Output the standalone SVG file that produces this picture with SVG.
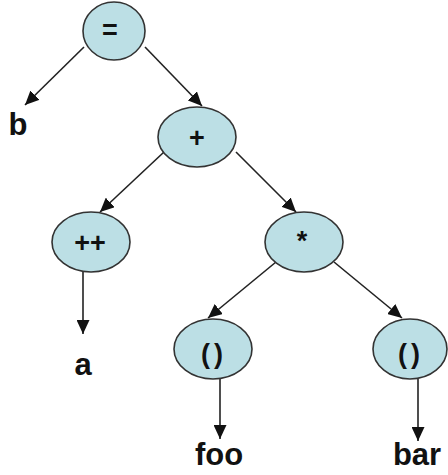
<svg xmlns="http://www.w3.org/2000/svg" width="448" height="475" viewBox="0 0 448 475">
<style>
.node ellipse{fill:#bcdfe5;stroke:#333;stroke-width:1.6}
.op{font-family:"Liberation Sans",Arial,sans-serif;font-weight:bold;font-size:27px;text-anchor:middle;fill:#111}
.leaf{font-family:"Liberation Sans",Arial,sans-serif;font-weight:bold;font-size:31px;text-anchor:middle;fill:#111}
.conn line{stroke:#222;stroke-width:1.6;marker-end:url(#ah)}
</style>
<defs>
<marker id="ah" markerUnits="userSpaceOnUse" markerWidth="15" markerHeight="13" refX="14" refY="6.5" orient="auto">
<path d="M0,0 L14,6.5 L0,13 z" fill="#111"/>
</marker>
</defs>
<rect width="448" height="475" fill="#fff"/>
<g id="connectors" class="conn">
<line x1="84" y1="47" x2="25" y2="105"/>
<line x1="145" y1="47" x2="202" y2="106"/>
<line x1="164" y1="152" x2="100" y2="212"/>
<line x1="236" y1="152" x2="296" y2="212"/>
<line x1="83" y1="272" x2="83" y2="334"/>
<line x1="276" y1="262" x2="208" y2="318"/>
<line x1="334" y1="262" x2="402" y2="318"/>
<line x1="220" y1="379" x2="220" y2="439"/>
<line x1="418" y1="379" x2="418" y2="441"/>
</g>
<g id="n-assign" class="node"><ellipse cx="114" cy="31" rx="31" ry="29"/><text class="op" x="110" y="39">=</text></g>
<g id="n-plus" class="node"><ellipse cx="197" cy="137" rx="39" ry="30"/><text class="op" x="197" y="147">+</text></g>
<g id="n-inc" class="node"><ellipse cx="91" cy="242" rx="39" ry="30"/><text class="op" x="90" y="252">++</text></g>
<g id="n-mul" class="node"><ellipse cx="304" cy="242" rx="39" ry="30"/><text class="op" x="302" y="250">*</text></g>
<g id="n-call1" class="node"><ellipse cx="213" cy="349" rx="39" ry="30"/><text class="op" x="214" y="363" letter-spacing="4">()</text></g>
<g id="n-call2" class="node"><ellipse cx="410" cy="349" rx="37" ry="30"/><text class="op" x="411" y="363" letter-spacing="4">()</text></g>
<g id="l-b"><text class="leaf" x="18" y="135">b</text></g>
<g id="l-a"><text class="leaf" x="83" y="375">a</text></g>
<g id="l-foo"><text class="leaf" x="219" y="465">foo</text></g>
<g id="l-bar"><text class="leaf" x="417" y="465">bar</text></g>
</svg>
